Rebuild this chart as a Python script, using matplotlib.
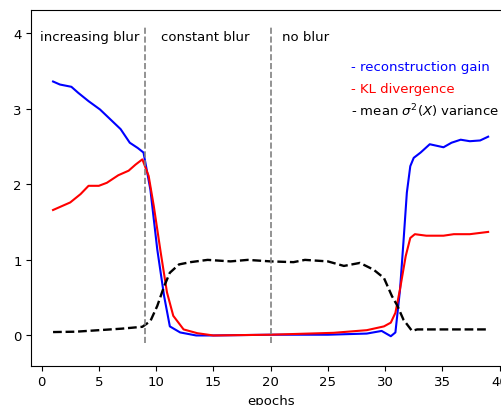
import matplotlib
matplotlib.use("Agg")
import matplotlib.pyplot as plt

# values (epoch, value)
gain_x = [1, 1.6, 2.6, 3.2, 4.1, 5.1, 6.0, 6.9, 7.7, 8.4, 8.9, 9.5, 10.1, 10.7, 11.2, 12.1, 13.5,
          15, 20, 25, 28.4, 29.7, 30.5, 30.9, 31.3, 31.6, 31.9, 32.2, 32.5, 33.1, 33.9, 34.5,
          35.1, 35.8, 36.6, 37.4, 38.3, 39]
gain_y = [3.36, 3.32, 3.29, 3.21, 3.10, 2.99, 2.86, 2.73, 2.55, 2.48, 2.42, 1.93, 1.14, 0.52, 0.12, 0.04, 0.0,
          0.0, 0.01, 0.01, 0.025, 0.06, -0.01, 0.04, 0.6, 1.23, 1.89, 2.24, 2.35, 2.42, 2.53, 2.51,
          2.49, 2.55, 2.59, 2.57, 2.58, 2.63]

kl_x = [1, 2.5, 3.4, 4.1, 5.0, 5.7, 6.7, 7.6, 8.2, 8.8, 9.35, 9.8, 10.4, 10.95, 11.5, 12.4, 13.6,
        15, 20, 25.5, 28.4, 29.9, 30.5, 30.9, 31.3, 31.8, 32.2, 32.6, 33.6, 35.1, 36, 37.4, 39]
kl_y = [1.66, 1.76, 1.87, 1.98, 1.98, 2.02, 2.12, 2.18, 2.26, 2.33, 2.11, 1.71, 1.10, 0.57, 0.26, 0.08, 0.03,
        0.0, 0.01, 0.035, 0.07, 0.12, 0.17, 0.30, 0.61, 1.05, 1.29, 1.34, 1.32, 1.32, 1.34, 1.34, 1.37]

var_x = [1, 3, 5, 7, 8.8, 9.5, 10.1, 10.7, 11.2, 12, 13, 14.5, 16.5, 18, 20, 22, 23, 25,
         26.4, 27.8, 29, 29.9, 30.6, 31.05, 31.6, 32.35, 32.8, 35, 39]
var_y = [0.045, 0.05, 0.07, 0.09, 0.115, 0.19, 0.39, 0.65, 0.83, 0.94, 0.97, 1.0, 0.98, 1.0, 0.98, 0.97, 1.0, 0.98,
         0.92, 0.96, 0.87, 0.76, 0.52, 0.40, 0.21, 0.06, 0.08, 0.08, 0.08]

phase_edges = [9, 20]
phase_labels = ["increasing blur", "constant blur", "no blur"]
phase_label_x = [-0.1, 10.4, 21.0]

legend_labels = ["- reconstruction gain", "- KL divergence", r"- mean $\sigma^2(X)$ variance"]
legend_colors = ["b", "r", "k"]

FS = 9.5
plt.rcParams.update({'xtick.labelsize': FS, 'ytick.labelsize': FS, 'axes.labelsize': FS})

fig = plt.figure(figsize=(5.02, 4.06), dpi=100)
# axes runs past the right edge, the reference is a crop
ax = fig.add_axes([31.3 / 502, 39.3 / 406, 478.6 / 502, 356.0 / 406])

ax.plot(gain_x, gain_y, color="b", lw=1.5)
ax.plot(kl_x, kl_y, color="r", lw=1.5)
ax.plot(var_x, var_y, color="k", ls="--", lw=1.7)

for e in phase_edges:
    ax.vlines(e, -0.1, 4.1, colors="gray", linestyles="--", lw=1.2)

for lx, lab in zip(phase_label_x, phase_labels):
    ax.text(lx, 3.96, lab, fontsize=FS, va="center", ha="left")

for i, (lab, c) in enumerate(zip(legend_labels, legend_colors)):
    ax.text(27.0, 3.56 - 0.29 * i, lab, color=c, fontsize=FS, va="center", ha="left")

ax.set_xlim(-0.9, 40.9)
ax.set_ylim(-0.4, 4.31)
ax.set_xticks([0, 5, 10, 15, 20, 25, 30, 35, 40])
ax.set_yticks([0, 1, 2, 3, 4])
ax.set_xlabel("epochs")

fig.savefig("out.png", dpi=100)
